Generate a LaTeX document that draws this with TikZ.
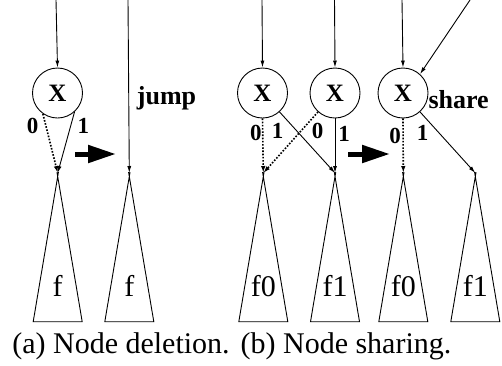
\documentclass[tikz,border=0pt]{standalone}
\usepackage{fontspec}
\setmainfont{Liberation Serif}
\usetikzlibrary{arrows.meta,calc}
\begin{document}
\begin{tikzpicture}[x=1pt,y=-1pt,
  every node/.style={inner sep=0pt},
  thinline/.style={line width=0.9pt},
  vnode/.style={draw,circle,minimum size=50pt,line width=0.9pt,
    font=\fontsize{25}{27}\selectfont\bfseries},
  hiedge/.style={thinline,-{Latex[length=7pt,width=4pt]}},
  loedge/.style={line width=1.6pt,dash pattern=on 1.6pt off 1.6pt,
    -{Latex[length=7pt,width=4.5pt]}},
  bitlabel/.style={font=\fontsize{23}{25}\selectfont\bfseries},
  oplabel/.style={font=\fontsize{26}{28}\selectfont\bfseries,anchor=base west},
  tlabel/.style={font=\fontsize{30}{32}\selectfont,anchor=base},
  caption/.style={font=\fontsize{30}{32}\selectfont,anchor=base},
  bigarrow/.style={line width=5pt,-{Triangle[length=28pt,width=17pt]}}]
\useasboundingbox (0,0) rectangle (502,365);

% subtrees
\foreach \n/\x/\t in {1/57.7/f,2/129.3/f,3/263.3/f0,4/335/f1,5/403.3/f0,6/475.3/f1}{
  \coordinate (t\n) at (\x,173);
  \coordinate (ap\n) at (\x,176.5);
  \coordinate (bl\n) at (\x-24.5,321.7);
  \coordinate (br\n) at (\x+24.5,321.7);
  \draw[thinline] ($(bl\n)!1.03!(ap\n)$) -- (bl\n) -- (br\n) -- ($(br\n)!1.03!(ap\n)$);
  \node[tlabel] (lab\n) at (\x,296.7) {\t};
}

% decision nodes
\node[vnode] (x1) at (57.5,93) {X};
\node[vnode] (x2) at (262.5,93) {X};
\node[vnode] (x3) at (335,93) {X};
\node[vnode] (x4) at (403,93) {X};

% incoming edges
\coordinate (in1) at (56,0);
\coordinate (in2) at (128,0);
\coordinate (in3) at (262,0);
\coordinate (in4) at (334.5,0);
\coordinate (in5) at (402,0);
\coordinate (in6) at (470,0);
\draw[hiedge] (in1) -- (x1.north);
\draw[hiedge] (in2) -- (t2);
\draw[hiedge] (in3) -- (x2.north);
\draw[hiedge] (in4) -- (x3.north);
\draw[hiedge] (in5) -- (x4.north);
\draw[hiedge] (in6) -- (x4.48);

% (a) node deletion
\draw[loedge] (x1.235) -- (t1);
\draw[hiedge] (x1.312) -- (t1);
\node[bitlabel] (z1) at (32.5,125.8) {0};
\node[bitlabel] (o1) at (83.3,125.5) {1};
\node[oplabel] (jump) at (136.7,104) {jump};

% (b) node sharing, before
\draw[loedge] (x2.south) -- (t3);
\draw[hiedge] (x2.312) -- (t4);
\draw[loedge] (x3.228) -- (t3);
\draw[hiedge] (x3.south) -- (t4);
\node[bitlabel] (z2) at (255.8,133) {0};
\node[bitlabel] (o2) at (277.5,130.8) {1};
\node[bitlabel] (z3) at (317.5,131) {0};
\node[bitlabel] (o3) at (344,134) {1};

% (b) node sharing, after
\draw[loedge] (x4.south) -- (t5);
\draw[hiedge] (x4.312) -- (t6);
\node[bitlabel] (z4) at (395,135.6) {0};
\node[bitlabel] (o4) at (422.5,132.5) {1};
\node[oplabel] (share) at (428.3,108.3) {share};

% transformation arrows
\coordinate (a1s) at (75,154);
\coordinate (a1e) at (116,154);
\coordinate (a2s) at (348,154);
\coordinate (a2e) at (390,154);
\draw[bigarrow] (a1s) -- (a1e);
\draw[bigarrow] (a2s) -- (a2e);

% captions
\node[caption] (capa) at (121,353.3) {(a) Node deletion.};
\node[caption] (capb) at (346,353.3) {(b) Node sharing.};
\end{tikzpicture}
\end{document}
